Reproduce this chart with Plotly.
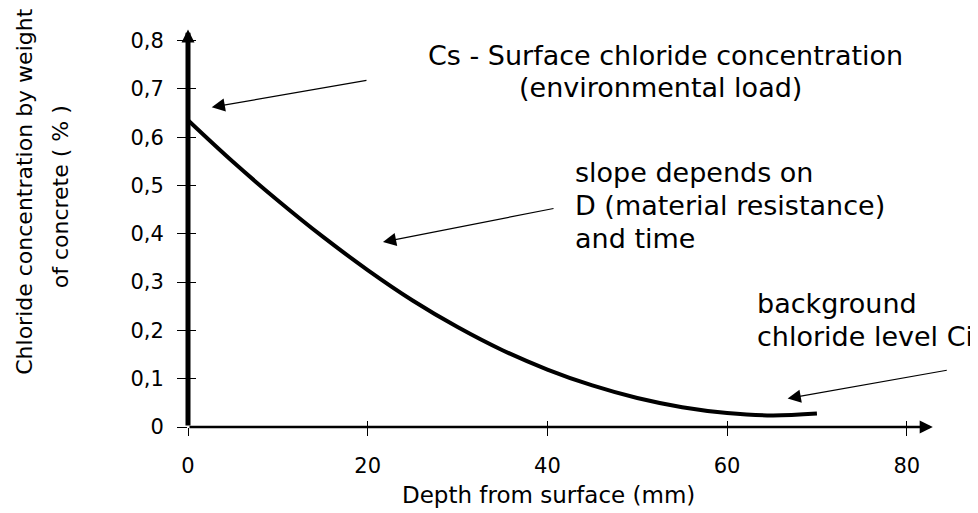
import plotly.graph_objects as go

# ---- data ----
depth_mm = [0, 5, 10, 15, 20, 25, 30, 35, 40, 45, 50, 55, 60, 65, 70]
chloride_pct = [0.635, 0.549, 0.469, 0.394, 0.325, 0.262, 0.207, 0.159, 0.119,
                0.086, 0.060, 0.041, 0.029, 0.024, 0.028]

x_tickvals = [0, 20, 40, 60, 80]
x_ticktext = ["0", "20", "40", "60", "80"]
y_tickvals = [0, 0.1, 0.2, 0.3, 0.4, 0.5, 0.6, 0.7, 0.8]
y_ticktext = ["0", "0,1", "0,2", "0,3", "0,4", "0,5", "0,6", "0,7", "0,8"]

x_title = "Depth from surface (mm)"
y_title_lines = ["Chloride concentration by weight", "of concrete ( % )"]
note_cs_lines = ["Cs - Surface chloride concentration", "(environmental load)"]
note_slope_lines = ["slope depends on", "D (material resistance)", "and time"]
note_bg_lines = ["background", "chloride level Ci"]

FONT = "DejaVu Sans"
X_MAX = 83.03
Y_MAX = 0.824

fig = go.Figure()
fig.add_trace(go.Scatter(x=depth_mm, y=chloride_pct, mode="lines",
                         line=dict(color="black", width=4, shape="spline"),
                         hoverinfo="skip", showlegend=False))
# invisible copy on overlay axes (used for crossing tick marks)
fig.add_trace(go.Scatter(x=depth_mm, y=chloride_pct, mode="lines", xaxis="x2", yaxis="y2",
                         line=dict(color="rgba(0,0,0,0)", width=0),
                         hoverinfo="skip", showlegend=False))

tickfont = dict(family=FONT, size=21, color="black")
fig.update_layout(
    width=970, height=505,
    margin=dict(l=180, r=44, t=21, b=86),
    paper_bgcolor="white", plot_bgcolor="white",
    showlegend=False,
    xaxis=dict(range=[0, X_MAX], showgrid=False, zeroline=False, showline=False,
               tickvals=x_tickvals, ticktext=x_ticktext, ticks="outside", ticklen=8,
               tickwidth=1, tickcolor="black", tickfont=tickfont, ticklabelstandoff=12),
    yaxis=dict(range=[0, Y_MAX], showgrid=False, zeroline=False, showline=False,
               tickvals=y_tickvals, ticktext=y_ticktext, ticks="outside", ticklen=10,
               tickwidth=1, tickcolor="black", tickfont=tickfont, ticklabelstandoff=9),
    xaxis2=dict(overlaying="x", anchor="y2", range=[0, X_MAX], showgrid=False,
                zeroline=False, showline=False, tickvals=x_tickvals, ticks="inside",
                ticklen=6, tickwidth=1, tickcolor="black", showticklabels=False),
    yaxis2=dict(overlaying="y", anchor="x2", range=[0, Y_MAX], showgrid=False,
                zeroline=False, showline=False, tickvals=y_tickvals, ticks="inside",
                ticklen=8, tickwidth=1, tickcolor="black", showticklabels=False),
)

anns = []
# axis lines with arrow heads
anns.append(dict(x=82.9, y=0, ax=0, ay=0, xref="x", yref="y", axref="x", ayref="y",
                 text="", showarrow=True, arrowhead=2, arrowwidth=2.5, arrowsize=1.05,
                 arrowcolor="black"))
anns.append(dict(x=0, y=0.823, ax=0, ay=0, xref="x", yref="y", axref="x", ayref="y",
                 text="", showarrow=True, arrowhead=2, arrowwidth=5, arrowsize=0.52,
                 arrowcolor="black"))
# pointer arrows
for tip, tail in [((2.64, 0.662), (20.03, 0.718)),
                  ((21.7, 0.383), (40.85, 0.453)),
                  ((66.74, 0.059), (84.62, 0.118))]:
    anns.append(dict(x=tip[0], y=tip[1], ax=tail[0], ay=tail[1], xref="x", yref="y",
                     axref="x", ayref="y", text="", showarrow=True, arrowhead=2,
                     arrowwidth=1.2, arrowsize=2.2, arrowcolor="black"))

notefont = dict(family=FONT, size=27, color="black")
# Cs block (centered lines)
for txt, xc, yc in zip(note_cs_lines, [53.2, 52.6], [0.770, 0.702]):
    anns.append(dict(x=xc, y=yc, xref="x", yref="y", text=txt, showarrow=False,
                     xanchor="center", yanchor="middle", font=notefont))
# slope block (left aligned)
for txt, yc in zip(note_slope_lines, [0.5259, 0.4576, 0.3893]):
    anns.append(dict(x=42.85, y=yc, xref="x", yref="y", text=txt, showarrow=False,
                     xanchor="left", yanchor="middle", font=notefont))
# background block (left aligned)
for txt, yc in zip(note_bg_lines, [0.2567, 0.1884]):
    anns.append(dict(x=63.1, y=yc, xref="x", yref="y", text=txt, showarrow=False,
                     xanchor="left", yanchor="middle", font=notefont))

# axis titles
titlefont = dict(family=FONT, size=22, color="black")
anns.append(dict(x=0.483, y=-0.172, xref="paper", yref="paper", text=x_title,
                 showarrow=False, xanchor="center", yanchor="middle",
                 font=dict(family=FONT, size=23, color="black")))
anns.append(dict(x=-0.2195, y=0.5917, xref="paper", yref="paper", text=y_title_lines[0],
                 showarrow=False, textangle=-90, xanchor="center", yanchor="middle",
                 font=titlefont))
anns.append(dict(x=-0.1698, y=0.578, xref="paper", yref="paper", text=y_title_lines[1],
                 showarrow=False, textangle=-90, xanchor="center", yanchor="middle",
                 font=titlefont))

fig.update_layout(annotations=anns)
fig.write_html("out.html")
